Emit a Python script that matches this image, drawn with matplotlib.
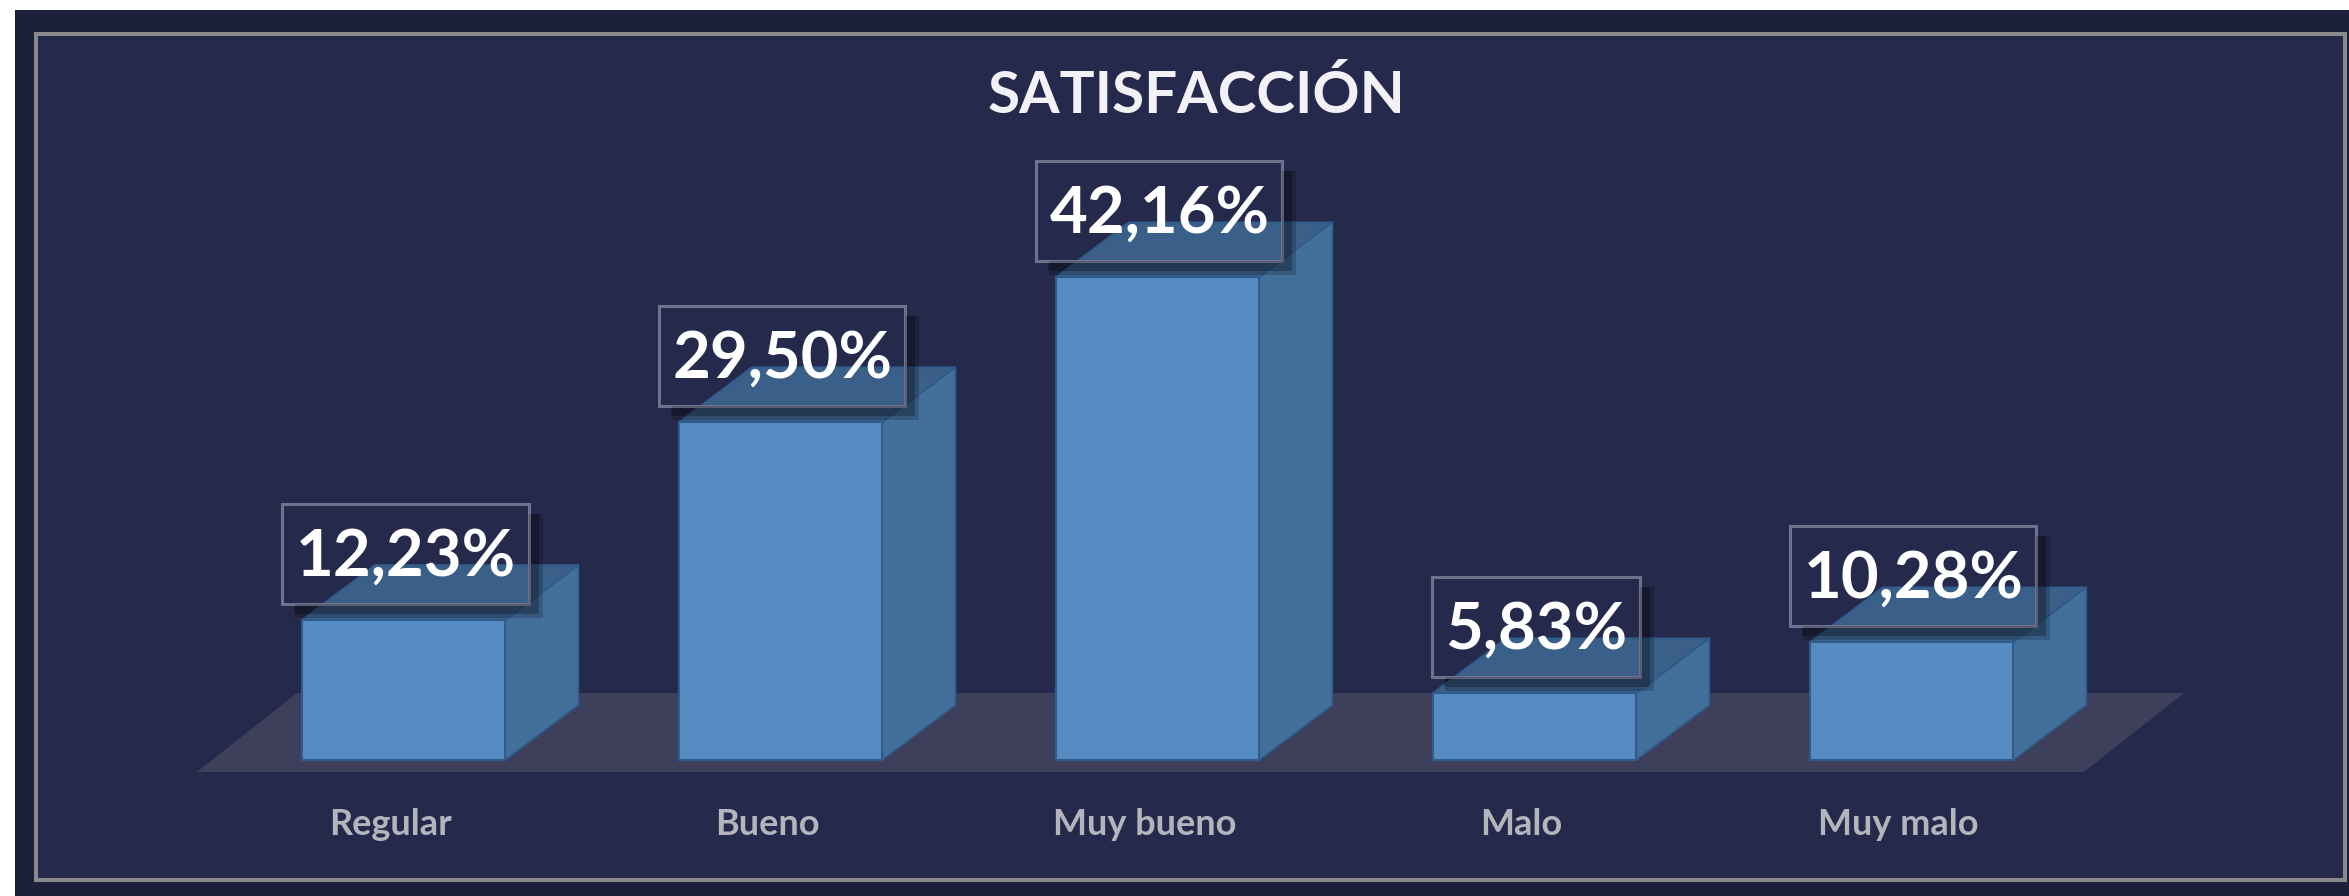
import matplotlib.pyplot as plt
from matplotlib.patches import Polygon, Rectangle
from matplotlib.lines import Line2D
from matplotlib.transforms import IdentityTransform

categorias = ['Regular', 'Bueno', 'Muy bueno', 'Malo', 'Muy malo']
valores = [12.23, 29.50, 42.16, 5.83, 10.28]
etiquetas = ['12,23%', '29,50%', '42,16%', '5,83%', '10,28%']
titulo = 'SATISFACCIÓN'

# colores estilo Excel oscuro
fondo_ext = '#1c2039'
fondo = '#252a4c'
borde = '#8a8a8a'
frente = '#568cc2'
lado = '#436f9b'
tapa = '#3a5f88'
linea = '#2f5c8c'
suelo = '#3e3f5b'

W, H = 2349, 896
fig = plt.figure(figsize=(W / 100, H / 100), dpi=100, facecolor=fondo_ext)
# margen blanco arriba e izquierda
fig.patches.append(Rectangle((0, 1 - 10 / H), 1, 10 / H, transform=fig.transFigure,
                             facecolor='white', edgecolor='none'))
fig.patches.append(Rectangle((0, 0), 15 / W, 1, transform=fig.transFigure,
                             facecolor='white', edgecolor='none'))

ax = fig.add_axes([36 / W, 16 / H, 2309 / W, 846 / H])
ax.set_facecolor(fondo)
for s in ax.spines.values():
    s.set_color(borde)
    s.set_linewidth(2.9)
ax.set_xticks([])
ax.set_yticks([])
ax.set_xlim(-0.975, 5.15)
ax.set_ylim(-10.48, 63.4)

ancho = 0.54
dx, dy = 0.194, 4.8
n = len(valores)

# suelo en perspectiva
ax.add_patch(Polygon([(-0.548, -1.05), (n - 1 + 0.457, -1.05),
                      (n - 1 + 0.723, 5.85), (-0.283, 5.85)],
                     closed=True, facecolor=suelo, edgecolor='none', zorder=1))

for i, v in enumerate(valores):
    x0 = i - ancho / 2
    x1 = i + ancho / 2
    # cara lateral
    ax.add_patch(Polygon([(x1, 0), (x1 + dx, dy), (x1 + dx, v + dy), (x1, v)],
                         closed=True, facecolor=lado, edgecolor=linea, lw=1.2, zorder=2))
    # tapa
    ax.add_patch(Polygon([(x0, v), (x1, v), (x1 + dx, v + dy), (x0 + dx, v + dy)],
                         closed=True, facecolor=tapa, edgecolor=linea, lw=1.2, zorder=2))

ax.bar(range(n), valores, width=ancho, color=frente, edgecolor=linea, linewidth=1.5, zorder=3)

textos = []
for i, v in enumerate(valores):
    t = ax.text(i + 0.005, v + 5.5, etiquetas[i], ha='center', va='center',
                fontsize=47, fontweight='bold', family='Lato', color='white', zorder=7)
    textos.append(t)
    ax.text(i - 0.035, -5.6, categorias[i], ha='center', va='center',
            fontsize=26, fontweight='bold', family='Lato', color='#b4b4bd', zorder=6)

ax.text(0.5025, 0.927, titulo, transform=ax.transAxes, ha='center', va='center',
        fontsize=42, fontweight='bold', family='Lato', color='#f2f2f6')

# cajas de las etiquetas (sin relleno, con sombra a la derecha y abajo)
fig.canvas.draw()
r = fig.canvas.get_renderer()
for t in textos:
    bb = t.get_window_extent(r)
    cx = (bb.x0 + bb.x1) / 2
    cy = (bb.y0 + bb.y1) / 2 + 3
    w = bb.width + 26
    h = 100
    left, bottom = cx - w / 2, cy - h / 2
    for off, lw, a in [(7, 14, 0.18), (6, 8, 0.25)]:
        fig.lines.append(Line2D([left + w + off, left + w + off, left + off + 6],
                                [bottom + h - 10, bottom - off, bottom - off],
                                transform=IdentityTransform(), color='black',
                                lw=lw * 0.72, alpha=a, solid_capstyle='butt',
                                solid_joinstyle='miter'))
    fig.patches.append(Rectangle((left, bottom), w, h, transform=IdentityTransform(),
                                 facecolor='none', edgecolor='#6f728c', lw=2.2))

fig.savefig('out.png', dpi=100, facecolor=fondo_ext)
